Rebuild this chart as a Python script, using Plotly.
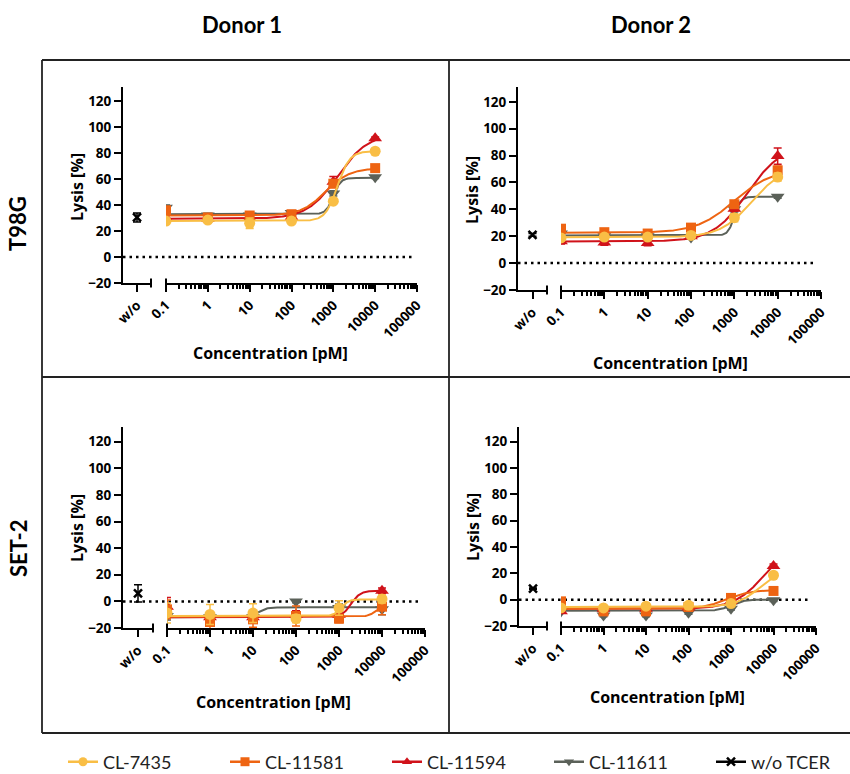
import numpy as np
import plotly.graph_objects as go

# ---------------- data ----------------
conc = [0.1, 1, 10, 100, 1000, 10000]
conc_tickvals = [0.1, 1, 10, 100, 1000, 10000, 100000]
conc_ticktext = ["0.1", "1", "10", "100", "1000", "10000", "100000"]
lysis_ticks = [-20, 0, 20, 40, 60, 80, 100, 120]
series_names = ["CL-7435", "CL-11581", "CL-11594", "CL-11611"]
ctrl_name = "w/o TCER"
col_titles = ["Donor 1", "Donor 2"]
row_titles = ["T98G", "SET-2"]

# T98G - Donor 1 (mean, sd, 4PL fit [bottom, top, logEC50, hill])
t98g_d1_cl7435 = [27.7, 28.5, 26.0, 27.7, 43.0, 81.5]
t98g_d1_cl7435_sd = [2, 2, 4, 1, 1.5, 1.5]
t98g_d1_cl7435_fit = [27.8, 81.5, 3.1, 3.0]
t98g_d1_cl11581 = [36.0, 30.5, 32.0, 33.0, 56.5, 68.5]
t98g_d1_cl11581_sd = [3, 2, 2, 2, 3, 2]
t98g_d1_cl11581_fit = [32.0, 68.5, 2.81, 1.5]
t98g_d1_cl11594 = [30.0, 29.5, 30.0, 31.0, 58.0, 91.5]
t98g_d1_cl11594_sd = [4, 2, 2, 2, 4, 1]
t98g_d1_cl11594_fit = [29.5, 95.0, 3.1, 1.2]
t98g_d1_cl11611 = [38.0, 32.0, 32.0, 34.0, 49.0, 61.5]
t98g_d1_cl11611_sd = [2, 1.5, 1.5, 1.5, 2, 1]
t98g_d1_cl11611_fit = [33.0, 61.0, 3.0, 5.0]
t98g_d1_ctrl = 30.5
t98g_d1_ctrl_sd = 3.5

# T98G - Donor 2
t98g_d2_cl7435 = [18.7, 19.4, 19.4, 20.6, 33.8, 64.0]
t98g_d2_cl7435_sd = [1.5, 1, 1, 1, 3, 3]
t98g_d2_cl7435_fit = [19.3, 72.0, 3.4, 1.2]
t98g_d2_cl11581 = [25.6, 23.0, 22.0, 26.4, 43.8, 69.0]
t98g_d2_cl11581_sd = [2, 2, 1.5, 2, 2, 3]
t98g_d2_cl11581_fit = [22.5, 70.0, 3.0, 1.0]
t98g_d2_cl11594 = [16.3, 15.3, 15.0, 20.0, 40.5, 79.6]
t98g_d2_cl11594_sd = [2, 2, 2, 1.5, 2, 6]
t98g_d2_cl11594_fit = [16.0, 88.0, 3.3, 1.1]
t98g_d2_cl11611 = [22.0, 20.0, 20.0, 19.0, 40.0, 49.3]
t98g_d2_cl11611_sd = [3, 1, 1, 1, 2, 1]
t98g_d2_cl11611_fit = [20.5, 49.3, 3.0, 6.0]
t98g_d2_ctrl = 21.0
t98g_d2_ctrl_sd = 1.0

# SET-2 - Donor 1
set2_d1_cl7435 = [-8.7, -9.8, -8.8, -13.0, -5.0, 1.8]
set2_d1_cl7435_sd = [7.5, 7.5, 7, 3, 5.5, 3]
set2_d1_cl7435_fit = [-11.0, 1.5, 3.05, 5.0]
set2_d1_cl11581 = [-6.0, -15.5, -13.5, -11.0, -13.0, -4.0]
set2_d1_cl11581_sd = [7, 5, 6, 7.5, 3, 6]
set2_d1_cl11581_fit = [-11.5, -3.0, 3.85, 5.0]
set2_d1_cl11594 = [-4.0, -12.0, -12.0, -10.0, -10.0, 8.0]
set2_d1_cl11594_sd = [7, 3, 3, 3, 3, 2]
set2_d1_cl11594_fit = [-12.0, 8.0, 3.28, 4.0]
set2_d1_cl11611 = [-11.0, -12.0, -12.0, 0.0, -5.0, -6.0]
set2_d1_cl11611_sd = [3, 3, 3, 1, 3, 4]
set2_d1_cl11611_fit = [-12.0, -4.5, 1.1, 4.0]
set2_d1_ctrl = 6.0
set2_d1_ctrl_sd = 6.5

# SET-2 - Donor 2
set2_d2_cl7435 = [-6.3, -6.3, -5.0, -4.3, -3.0, 18.5]
set2_d2_cl7435_sd = [1, 1, 1, 1, 1, 2]
set2_d2_cl7435_fit = [-5.5, 25.0, 3.7, 1.5]
set2_d2_cl11581 = [-1.3, -8.9, -8.9, -5.6, 1.3, 6.6]
set2_d2_cl11581_sd = [1.5, 1, 1, 1, 1, 1]
set2_d2_cl11581_fit = [-7.0, 7.5, 2.9, 1.5]
set2_d2_cl11594 = [-8.9, -7.0, -7.0, -6.0, -1.0, 25.6]
set2_d2_cl11594_sd = [1.5, 1, 1, 1, 1, 1.5]
set2_d2_cl11594_fit = [-7.0, 45.0, 3.8, 1.2]
set2_d2_cl11611 = [-9.0, -12.0, -12.0, -10.0, -6.9, -0.5]
set2_d2_cl11611_sd = [1, 1, 1, 1, 1, 1]
set2_d2_cl11611_fit = [-8.5, 0.0, 3.0, 3.0]
set2_d2_ctrl = 8.4
set2_d2_ctrl_sd = 0.5

# ---------------- styling ----------------
colors = ["#F9BE45", "#EE6412", "#D0121A", "#5B6159"]
symbols = ["circle", "square", "triangle-up", "triangle-down"]
msizes = [11, 10, 12, 12]
W, H = 850, 774
TICKFONT = dict(family="Open Sans", size=13.5, color="black", weight="bold")
TITLEFONT = dict(family="Open Sans", size=16, color="black", weight="bold")
HEADFONT = dict(family="Lato", size=22, color="black", weight="bold")

# pixel geometry of each panel
geom = [
    dict(yx=123, wend=151, lstart=166, lend=417, ytop=87, ybot=283, ylab=(77, 187), xlab=(270, 353)),
    dict(yx=518, wend=547, lstart=561, lend=821, ytop=87, ybot=290, ylab=(472, 190), xlab=(670, 363)),
    dict(yx=123, wend=153, lstart=167, lend=425, ytop=427, ybot=628, ylab=(77, 528), xlab=(273, 702)),
    dict(yx=519, wend=547, lstart=561, lend=816, ytop=427, ybot=626, ylab=(473, 527), xlab=(667, 697)),
]

panels = [
    dict(means=[t98g_d1_cl7435, t98g_d1_cl11581, t98g_d1_cl11594, t98g_d1_cl11611],
         sds=[t98g_d1_cl7435_sd, t98g_d1_cl11581_sd, t98g_d1_cl11594_sd, t98g_d1_cl11611_sd],
         fits=[t98g_d1_cl7435_fit, t98g_d1_cl11581_fit, t98g_d1_cl11594_fit, t98g_d1_cl11611_fit],
         ctrl=t98g_d1_ctrl, ctrl_sd=t98g_d1_ctrl_sd),
    dict(means=[t98g_d2_cl7435, t98g_d2_cl11581, t98g_d2_cl11594, t98g_d2_cl11611],
         sds=[t98g_d2_cl7435_sd, t98g_d2_cl11581_sd, t98g_d2_cl11594_sd, t98g_d2_cl11611_sd],
         fits=[t98g_d2_cl7435_fit, t98g_d2_cl11581_fit, t98g_d2_cl11594_fit, t98g_d2_cl11611_fit],
         ctrl=t98g_d2_ctrl, ctrl_sd=t98g_d2_ctrl_sd),
    dict(means=[set2_d1_cl7435, set2_d1_cl11581, set2_d1_cl11594, set2_d1_cl11611],
         sds=[set2_d1_cl7435_sd, set2_d1_cl11581_sd, set2_d1_cl11594_sd, set2_d1_cl11611_sd],
         fits=[set2_d1_cl7435_fit, set2_d1_cl11581_fit, set2_d1_cl11594_fit, set2_d1_cl11611_fit],
         ctrl=set2_d1_ctrl, ctrl_sd=set2_d1_ctrl_sd),
    dict(means=[set2_d2_cl7435, set2_d2_cl11581, set2_d2_cl11594, set2_d2_cl11611],
         sds=[set2_d2_cl7435_sd, set2_d2_cl11581_sd, set2_d2_cl11594_sd, set2_d2_cl11611_sd],
         fits=[set2_d2_cl7435_fit, set2_d2_cl11581_fit, set2_d2_cl11594_fit, set2_d2_cl11611_fit],
         ctrl=set2_d2_ctrl, ctrl_sd=set2_d2_ctrl_sd),
]


def px_x(p):
    return p / W


def px_y(p):
    return 1 - p / H


def four_pl(x, fit):
    bottom, top, logec, hill = fit
    return bottom + (top - bottom) / (1 + 10 ** ((logec - np.log10(x)) * hill))


xfit = np.logspace(np.log10(conc[0]), np.log10(conc[-1]), 300)

fig = go.Figure()
layout = {}
shapes = []
annotations = []

for i, (g, pdat) in enumerate(zip(geom, panels)):
    kw, kl = 2 * i + 1, 2 * i + 2
    xw, yw, xl, yl = f"x{kw}", f"y{kw}", f"x{kl}", f"y{kl}"
    ydom = [px_y(g["ybot"]), px_y(g["ytop"])]
    common = dict(showgrid=False, zeroline=False, showline=True, linewidth=2, linecolor="black",
                  ticks="outside", ticklen=7, tickwidth=2, tickcolor="black", tickfont=TICKFONT)
    layout[f"xaxis{kw}"] = dict(domain=[px_x(g["yx"]), px_x(g["wend"])], anchor=yw, range=[-1, 1],
                                tickmode="array", tickvals=[0], ticktext=["w/o"], tickangle=-45, **common)
    layout[f"yaxis{kw}"] = dict(domain=ydom, anchor=xw, range=[-20, 131], tickmode="array",
                                tickvals=lysis_ticks, **common)
    layout[f"xaxis{kl}"] = dict(domain=[px_x(g["lstart"]), px_x(g["lend"])], anchor=yl, type="log",
                                range=[-1, 5], tickmode="array", tickvals=conc_tickvals,
                                ticktext=conc_ticktext, tickangle=-45,
                                minor=dict(ticks="outside", ticklen=4, tickwidth=1.5, tickcolor="black",
                                           dtick="D1", showgrid=False), **common)
    layout[f"yaxis{kl}"] = dict(domain=ydom, anchor=xl, range=[-20, 131], visible=False)

    # zero dotted line
    shapes.append(dict(type="line", xref="paper", yref=yw, x0=px_x(g["yx"]), x1=px_x(g["lend"] - 5),
                       y0=0, y1=0, line=dict(color="black", width=2.5, dash="2.5px,4px"), layer="below"))
    # axis break marks
    for xb in (g["wend"], g["lstart"]):
        shapes.append(dict(type="line", xref="paper", yref="paper", x0=px_x(xb), x1=px_x(xb),
                           y0=px_y(g["ybot"] + 4.5), y1=px_y(g["ybot"] - 4.5),
                           line=dict(color="black", width=2)))

    # series: draw gray first, yellow last
    for s in [3, 2, 1, 0]:
        fig.add_trace(go.Scatter(x=xfit, y=four_pl(xfit, pdat["fits"][s]), mode="lines",
                                 line=dict(color=colors[s], width=2), xaxis=xl, yaxis=yl,
                                 showlegend=False, hoverinfo="skip"))
        fig.add_trace(go.Scatter(x=conc, y=pdat["means"][s], mode="markers",
                                 marker=dict(color=colors[s], symbol=symbols[s], size=msizes[s]),
                                 error_y=dict(type="data", array=pdat["sds"][s], color=colors[s],
                                              thickness=1.5, width=4),
                                 xaxis=xl, yaxis=yl, showlegend=False, name=series_names[s]))
    fig.add_trace(go.Scatter(x=[0], y=[pdat["ctrl"]], mode="markers",
                             marker=dict(symbol="x-thin", size=8, color="black",
                                         line=dict(width=2.5, color="black")),
                             error_y=dict(type="data", array=[pdat["ctrl_sd"]], color="black",
                                          thickness=1.5, width=4),
                             xaxis=xw, yaxis=yw, showlegend=False, name=ctrl_name))

    annotations.append(dict(text="Lysis [%]", xref="paper", yref="paper", x=px_x(g["ylab"][0]),
                            y=px_y(g["ylab"][1]), textangle=-90, showarrow=False, font=TITLEFONT,
                            xanchor="center", yanchor="middle"))
    annotations.append(dict(text="Concentration [pM]", xref="paper", yref="paper", x=px_x(g["xlab"][0]),
                            y=px_y(g["xlab"][1]), showarrow=False, font=TITLEFONT,
                            xanchor="center", yanchor="middle"))

# legend entries
for s in range(4):
    fig.add_trace(go.Scatter(x=[None], y=[None], mode="lines+markers", name=series_names[s],
                             line=dict(color=colors[s], width=2.5),
                             marker=dict(color=colors[s], symbol=symbols[s], size=9),
                             xaxis="x2", yaxis="y2"))
fig.add_trace(go.Scatter(x=[None], y=[None], mode="lines+markers", name=ctrl_name,
                         line=dict(color="black", width=2.5),
                         marker=dict(symbol="x-thin", size=8, color="black", line=dict(width=2.5, color="black")),
                         xaxis="x1", yaxis="y1"))

# headers
for t, xc in zip(col_titles, [242, 651]):
    annotations.append(dict(text=t, xref="paper", yref="paper", x=px_x(xc), y=px_y(25), showarrow=False,
                            font=HEADFONT, xanchor="center", yanchor="middle"))
for t, yc in zip(row_titles, [224, 548]):
    annotations.append(dict(text=t, xref="paper", yref="paper", x=px_x(18), y=px_y(yc), showarrow=False,
                            textangle=-90, font=HEADFONT, xanchor="center", yanchor="middle"))

# table frame
frame = [(42, 60, 850, 60), (42, 60, 42, 733), (42, 733, 850, 733), (449, 60, 449, 733), (42, 377, 850, 377)]
for x0, y0, x1, y1 in frame:
    shapes.append(dict(type="line", xref="paper", yref="paper", x0=px_x(x0), y0=px_y(y0),
                       x1=px_x(x1), y1=px_y(y1), line=dict(color="#222222", width=1.8)))

fig.update_layout(
    width=W, height=H, margin=dict(l=0, r=0, t=0, b=0, autoexpand=False),
    paper_bgcolor="white", plot_bgcolor="white",
    shapes=shapes, annotations=annotations,
    legend=dict(orientation="h", x=px_x(63), xanchor="left", y=px_y(762), yanchor="middle",
                font=dict(family="Lato", size=18, color="#222222"), entrywidth=117,
                entrywidthmode="pixels", itemwidth=30, bgcolor="rgba(0,0,0,0)"),
    **layout,
)

fig.write_html("out.html")
